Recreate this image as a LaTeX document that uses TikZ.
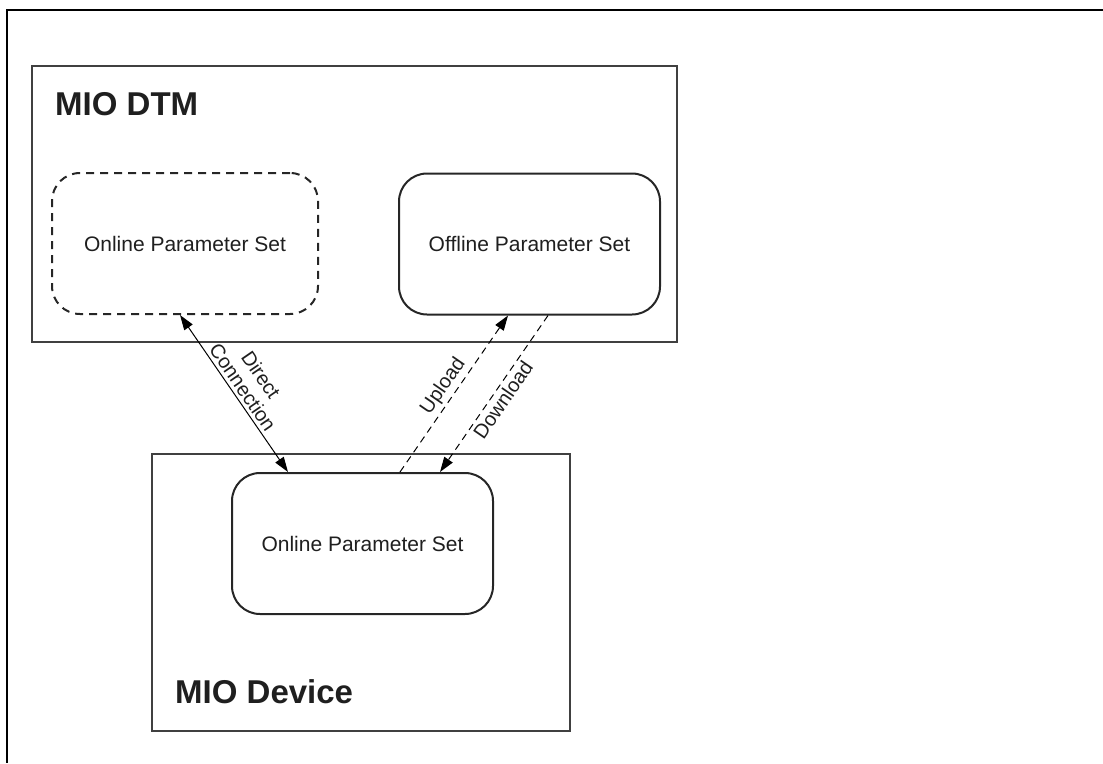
\documentclass[tikz,border=0pt]{standalone}
\usepackage{fontspec}
\setmainfont{Liberation Sans}
\usetikzlibrary{calc,arrows.meta}

\begin{document}
\begin{tikzpicture}[x=1pt,y=-1pt,
    parset/.style={draw=black!85,line width=2pt,rounded corners=28pt,minimum width=261pt,minimum height=141pt,inner sep=0pt,font=\fontsize{21}{25}\selectfont,text=black!88},
    outerbox/.style={draw=black!75,line width=1.5pt,inner sep=0pt},
    ttl/.style={anchor=base west,inner sep=0pt,font=\fontsize{33}{40}\selectfont\bfseries,text=black!88},
    lbl/.style={font=\fontsize{20}{22}\selectfont,sloped,align=center,inner sep=3pt,text=black!88},
    arr/.style={-{Triangle[length=15pt,width=10pt]},line width=1pt}]
  \useasboundingbox (0,0) rectangle (1103,763);
  \draw[line width=1.5pt] (1103,10) -- (7,10) -- (7,763);

  \node[outerbox,minimum width=645pt,minimum height=276pt] (dtm) at (354.5,204) {};
  \node[outerbox,minimum width=418pt,minimum height=277pt] (dev) at (361,592.5) {};
  \node[ttl] (dtmT) at (55,115) {MIO DTM};
  \node[ttl] (devT) at (175,703) {MIO Device};

  \node[parset,dash pattern=on 8pt off 6pt,minimum width=266pt] (onl) at (185,243.5) {Online Parameter Set};
  \node[parset] (off) at (529.5,244) {Offline Parameter Set};
  \node[parset] (onlD) at (362.5,543.5) {Online Parameter Set};

  \draw[arr,{Triangle[length=15pt,width=10pt]}-{Triangle[length=15pt,width=10pt]}] ([xshift=-5pt]onl.south) to node[lbl,above] {Direct\\Connection} ([xshift=-74.5pt]onlD.north);
  \draw[arr,dash pattern=on 7pt off 5pt] ([xshift=37.5pt]onlD.north) to node[lbl,above] {Upload} ([xshift=-21.5pt]off.south);
  \draw[arr,dash pattern=on 7pt off 5pt] ([xshift=18.5pt]off.south) to node[lbl,below] {Download} ([xshift=77.5pt]onlD.north);
\end{tikzpicture}
\end{document}
